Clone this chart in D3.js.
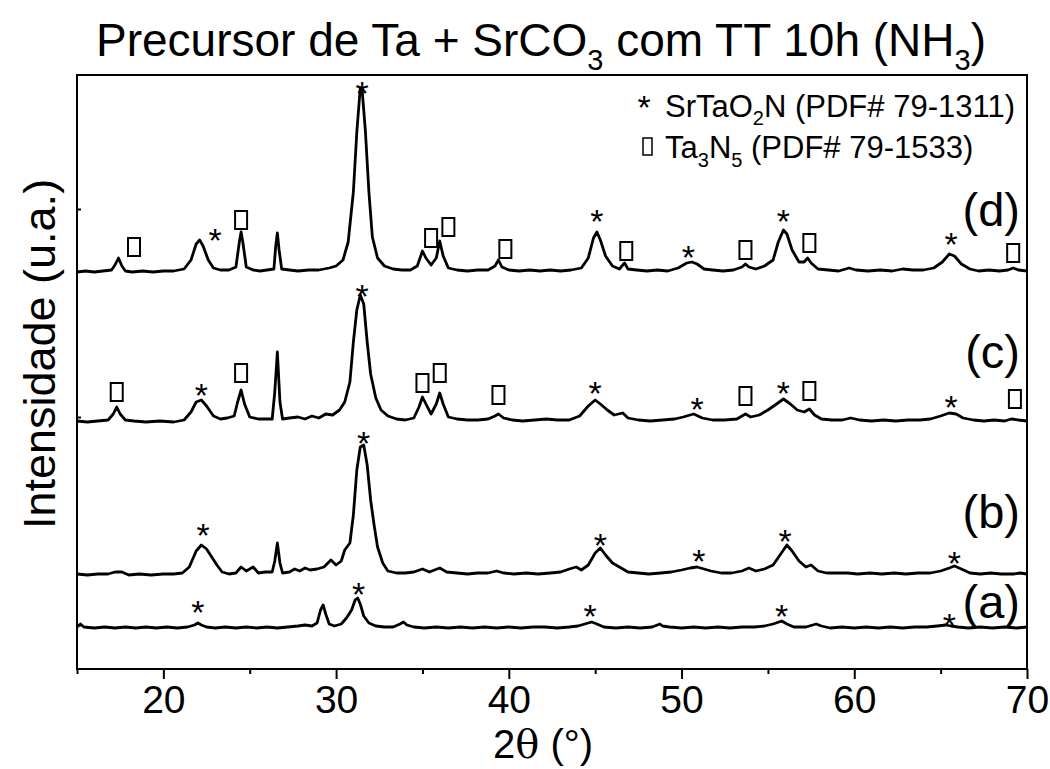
<!DOCTYPE html>
<html>
<head>
  <meta charset='utf-8'>
  <title>XRD Ta + SrCO3</title>
  <script src="https://cdn.jsdelivr.net/npm/d3@7"></script>
  <style>
    html, body { margin: 0; padding: 0; background: #fff; }
    svg text { font-family: Arial, "Liberation Sans", Helvetica, sans-serif; fill: #000; }
  </style>
</head>
<body>
<div id="chart"></div>
<script>
// 2theta / intensity pairs (height above each pattern's baseline)
const patternA = [
  [15.0,1],[15.2,4],[15.4,1],[16.0,0],[16.6,1],[17.2,0],[17.8,1],[18.4,0],[19.0,1],[19.6,0],[20.2,1],[20.8,0],
  [21.4,1],[21.8,3],[22.0,5],[22.2,3],[22.5,1],[23.0,0],[23.6,1],[24.2,0],[24.8,1],[25.4,0],[26.0,1],[26.6,0],
  [27.2,1],[27.8,2],[28.2,3],[28.6,2],[28.9,5],[29.1,18],[29.25,23],[29.4,14],[29.6,4],[29.9,2],[30.3,4],[30.6,10],
  [30.9,18],[31.1,28],[31.25,30],[31.4,24],[31.6,12],[31.9,5],[32.3,2],[32.8,1],[33.3,1],[33.7,4],[33.9,6],[34.1,3],
  [34.5,1],[35.1,0],[35.8,1],[36.5,0],[37.2,1],[37.9,0],[38.6,1],[39.3,0],[40.0,1],[40.7,0],[41.4,1],[42.1,1],
  [42.8,0],[43.5,1],[44.0,2],[44.4,4],[44.8,6],[45.1,4],[45.5,1],[46.2,0],[46.9,1],[47.6,0],[48.3,1],[48.6,3],
  [48.75,4],[48.9,2],[49.3,1],[50.0,0],[50.7,1],[51.4,0],[52.1,1],[52.8,0],[53.5,1],[54.2,1],[54.8,2],[55.3,4],
  [55.8,7],[56.1,4],[56.5,1],[57.2,1],[57.6,3],[57.8,4],[58.1,2],[58.6,0],[59.3,1],[60.0,0],[60.7,1],[61.4,0],
  [62.1,1],[62.8,0],[63.5,1],[64.2,1],[64.8,2],[65.3,3],[65.6,2],[66.0,1],[66.6,0],[67.3,1],[68.0,0],[68.7,1],
  [69.4,0],[70.0,1]
];
const patternB = [
  [15.0,1],[15.6,0],[16.2,1],[16.8,1],[17.2,3],[17.6,3],[18.0,0],[18.6,1],[19.3,0],[20.0,1],[20.6,1],[21.1,2],
  [21.5,8],[21.9,24],[22.2,30],[22.5,26],[22.8,18],[23.1,10],[23.4,3],[23.8,1],[24.2,2],[24.5,8],[24.8,4],[25.2,8],
  [25.5,2],[25.9,3],[26.3,3],[26.45,14],[26.6,32],[26.75,12],[26.9,2],[27.3,3],[27.6,6],[27.9,4],[28.2,7],[28.5,5],
  [28.9,6],[29.3,8],[29.7,15],[30.0,10],[30.3,14],[30.5,25],[30.8,32],[31.0,60],[31.2,105],[31.4,128],[31.6,130],
  [31.8,110],[32.0,75],[32.2,50],[32.4,28],[32.7,12],[33.0,4],[33.5,2],[34.0,2],[34.5,3],[35.0,6],[35.4,3],[36.0,7],
  [36.4,3],[37.0,2],[37.6,1],[38.2,2],[38.8,2],[39.3,4],[39.7,2],[40.3,1],[41.0,2],[41.7,1],[42.4,2],[43.0,3],
  [43.5,6],[43.9,8],[44.2,5],[44.6,10],[45.0,22],[45.3,27],[45.6,20],[46.0,12],[46.5,7],[46.9,3],[47.5,2],[48.1,1],
  [48.8,2],[49.4,3],[50.0,5],[50.5,7],[50.9,8],[51.3,6],[51.7,4],[52.3,2],[52.9,2],[53.5,4],[53.9,7],[54.3,4],
  [54.8,6],[55.3,10],[55.7,20],[56.1,30],[56.4,24],[56.8,14],[57.2,8],[57.5,10],[57.9,4],[58.4,2],[59.0,2],[59.6,2],
  [60.2,1],[60.9,2],[61.6,1],[62.3,2],[63.0,1],[63.7,2],[64.4,2],[65.0,4],[65.5,7],[65.8,9],[66.2,6],[66.7,2],
  [67.3,1],[67.9,2],[68.5,1],[69.2,1],[69.6,2],[70.0,1]
];
const patternC = [
  [15.0,1],[15.6,0],[16.2,1],[16.8,2],[17.1,8],[17.3,15],[17.5,8],[17.8,2],[18.3,1],[19.0,0],[19.8,1],[20.6,0],
  [21.2,2],[21.6,10],[21.9,20],[22.2,22],[22.5,16],[22.9,6],[23.3,3],[23.7,4],[24.1,6],[24.3,20],[24.5,32],[24.7,18],
  [25.0,5],[25.5,3],[26.0,3],[26.3,3],[26.45,30],[26.6,70],[26.75,20],[26.9,3],[27.3,4],[27.8,5],[28.2,3],[28.6,6],
  [29.0,4],[29.4,8],[29.8,7],[30.2,12],[30.5,20],[30.8,40],[31.0,80],[31.2,112],[31.4,127],[31.6,118],[31.8,80],
  [32.0,48],[32.3,24],[32.6,12],[33.0,6],[33.5,3],[34.0,2],[34.5,4],[34.8,15],[35.0,25],[35.2,18],[35.5,8],[35.8,18],
  [36.0,29],[36.2,18],[36.5,5],[37.0,3],[37.6,2],[38.2,2],[38.8,3],[39.2,6],[39.4,8],[39.7,4],[40.2,2],[40.8,1],
  [41.5,2],[42.2,3],[42.8,2],[43.5,2],[44.1,6],[44.6,16],[45.0,22],[45.3,18],[45.7,12],[46.1,7],[46.6,9],[46.9,4],
  [47.5,2],[48.2,1],[48.9,2],[49.6,3],[50.1,5],[50.7,8],[51.2,4],[51.8,2],[52.5,2],[53.2,3],[53.7,8],[54.0,5],
  [54.5,7],[55.0,12],[55.5,18],[55.9,23],[56.3,18],[56.7,12],[57.1,10],[57.4,13],[57.7,7],[58.1,3],[58.7,2],[59.3,2],
  [59.8,4],[60.3,2],[61.0,1],[61.7,2],[62.4,1],[63.1,2],[63.8,2],[64.4,3],[65.0,6],[65.5,9],[65.9,8],[66.3,4],
  [66.9,2],[67.5,1],[68.1,2],[68.7,1],[69.1,3],[69.5,2],[70.0,1]
];
const patternD = [
  [15.0,0],[15.5,1],[16.0,0],[16.5,1],[17.0,2],[17.2,7],[17.4,14],[17.6,6],[17.8,1],[18.2,0],[18.8,1],[19.4,0],
  [20.0,1],[20.6,1],[21.2,3],[21.6,12],[21.9,28],[22.1,32],[22.3,26],[22.6,12],[22.9,4],[23.3,2],[23.8,2],[24.2,5],
  [24.4,30],[24.5,40],[24.6,30],[24.8,5],[25.2,2],[25.6,1],[26.0,2],[26.4,3],[26.5,25],[26.6,39],[26.7,22],[26.85,3],
  [27.3,2],[27.8,1],[28.4,2],[29.0,2],[29.6,4],[30.0,6],[30.4,12],[30.7,30],[31.0,80],[31.2,140],[31.4,184],[31.5,184],
  [31.7,140],[31.9,80],[32.1,35],[32.4,14],[32.8,6],[33.3,3],[33.8,2],[34.3,2],[34.7,6],[35.0,21],[35.2,14],[35.5,7],
  [35.8,14],[36.0,31],[36.2,16],[36.5,4],[37.0,2],[37.6,1],[38.2,2],[38.8,2],[39.2,6],[39.4,12],[39.6,5],[40.0,2],
  [40.6,1],[41.2,2],[41.8,1],[42.4,2],[43.0,1],[43.6,2],[44.2,4],[44.6,14],[44.9,34],[45.1,40],[45.3,32],[45.6,16],
  [46.0,6],[46.4,3],[46.7,9],[46.9,3],[47.4,2],[48.0,1],[48.6,2],[49.2,1],[49.8,4],[50.3,9],[50.6,10],[50.9,8],
  [51.3,3],[51.8,2],[52.4,1],[53.0,2],[53.5,5],[53.7,8],[53.9,5],[54.3,3],[54.8,6],[55.3,12],[55.6,30],[55.9,42],
  [56.1,38],[56.4,22],[56.8,10],[57.1,10],[57.3,14],[57.5,9],[57.9,3],[58.5,2],[59.1,1],[59.7,4],[60.1,2],[60.8,1],
  [61.5,2],[62.2,1],[62.8,3],[63.4,2],[64.0,2],[64.6,4],[65.1,10],[65.5,18],[65.8,16],[66.2,8],[66.7,3],[67.2,1],
  [67.8,2],[68.4,1],[68.9,2],[69.2,4],[69.5,2],[70.0,1]
];

const sampleLabels = ["(a)", "(b)", "(c)", "(d)"];
const offsets = [41, 94, 247, 397];          // vertical stacking of the patterns
const labelLevels = [51, 141, 301, 443];      // baseline of the (a)..(d) labels
const xTicks = [20, 30, 40, 50, 60, 70];
const xMinorTicks = [15, 25, 35, 45, 55, 65];
const yTicks = [44, 252, 460];

// phase markers: [pattern index, 2theta, level above baseline, type]
const markers = [
  [3,18.3,25,"box"],[3,23.0,40,"star"],[3,24.5,52,"box"],[3,31.5,187,"star"],[3,35.5,34,"box"],[3,36.5,45,"box"],
  [3,39.8,23,"box"],[3,45.1,59,"star"],[3,46.8,21,"box"],[3,50.4,23,"star"],[3,53.7,22,"box"],[3,55.9,59,"star"],
  [3,57.4,29,"box"],[3,65.6,36,"star"],[3,69.2,19,"box"],
  [2,17.3,30,"box"],[2,22.2,35,"star"],[2,24.5,49,"box"],[2,31.5,134,"star"],[2,35.0,39,"box"],[2,36.0,49,"box"],
  [2,39.4,27,"box"],[2,45.0,37,"star"],[2,50.9,21,"star"],[2,53.7,26,"box"],[2,55.9,37,"star"],[2,57.4,31,"box"],
  [2,65.6,23,"star"],[2,69.3,23,"box"],
  [1,22.3,48,"star"],[1,31.6,140,"star"],[1,45.3,38,"star"],[1,51.0,22,"star"],[1,56.0,42,"star"],[1,65.8,20,"star"],
  [0,22.0,24,"star"],[0,31.3,42,"star"],[0,44.7,20,"star"],[0,55.8,20,"star"],[0,65.5,11,"star"]
];

const W = 1050, H = 769;
const margin = {top: 75, right: 23, bottom: 100, left: 77};
const width = W - margin.left - margin.right,
      height = H - margin.top - margin.bottom;

const svg = d3.select("#chart").append("svg")
    .attr("width", W)
    .attr("height", H);

const g = svg.append("g")
    .attr("transform", `translate(${margin.left},${margin.top})`);

const x = d3.scaleLinear().domain([15, 70]).range([0, width]);
const y = d3.scaleLinear().domain([0, 594]).range([height, 0]);

// frame
g.append("rect")
    .attr("width", width).attr("height", height)
    .attr("fill", "none").attr("stroke", "#000").attr("stroke-width", 2);

// x axis, major + minor ticks
const xAxis = g.append("g")
    .attr("transform", `translate(0,${height})`)
    .call(d3.axisBottom(x).tickValues(xTicks).tickSize(10).tickPadding(6));
g.append("g")
    .attr("transform", `translate(0,${height})`)
    .call(d3.axisBottom(x).tickValues(xMinorTicks).tickSize(5).tickFormat(""))
    .call(s => s.select(".domain").remove());
xAxis.select(".domain").remove();
g.selectAll(".tick line").attr("stroke", "#000").attr("stroke-width", 2);
xAxis.selectAll("text").attr("font-size", 39).attr("fill", "#000")
    .style("font-family", "Arial, 'Liberation Sans', sans-serif");

// y axis: unlabeled ticks pointing in
const yAxis = g.append("g")
    .call(d3.axisRight(y).tickValues(yTicks).tickSize(4).tickFormat(""));
yAxis.select(".domain").remove();
yAxis.selectAll("line").attr("stroke", "#000").attr("stroke-width", 2);

// patterns
const patterns = [patternA, patternB, patternC, patternD];
const line = d3.line()
    .x(d => x(d[0]))
    .y(d => y(d[1]));

g.selectAll(".pattern")
  .data(patterns)
  .join("path")
    .attr("class", "pattern")
    .attr("fill", "none")
    .attr("stroke", "#000")
    .attr("stroke-width", 2.8)
    .attr("stroke-linejoin", "round")
    .attr("d", (d, i) => line(d.map(p => [p[0], p[1] + offsets[i]])));

// markers
const starSize = 34;
g.selectAll(".star")
  .data(markers.filter(m => m[3] === "star"))
  .join("text")
    .attr("class", "star")
    .attr("x", m => x(m[1]))
    .attr("y", m => y(m[2] + offsets[m[0]]) + starSize * 0.6)
    .attr("text-anchor", "middle")
    .attr("font-size", starSize)
    .text("*");

g.selectAll(".box")
  .data(markers.filter(m => m[3] === "box"))
  .join("rect")
    .attr("class", "box")
    .attr("x", m => x(m[1]) - 6)
    .attr("y", m => y(m[2] + offsets[m[0]]) - 9)
    .attr("width", 12)
    .attr("height", 18)
    .attr("fill", "none")
    .attr("stroke", "#000")
    .attr("stroke-width", 2);

// sample labels
g.selectAll(".sample")
  .data(sampleLabels)
  .join("text")
    .attr("class", "sample")
    .attr("x", width - 7)
    .attr("y", (d, i) => y(labelLevels[i]))
    .attr("text-anchor", "end")
    .attr("font-size", 47)
    .text(d => d);

// legend
const leg = g.append("g").attr("font-size", 31);
leg.append("text").attr("x", 567).attr("y", 44).attr("text-anchor", "middle").attr("font-size", 34).text("*");
const t1 = leg.append("text").attr("x", 588).attr("y", 42);
t1.append("tspan").text("SrTaO");
t1.append("tspan").attr("font-size", 20).attr("dy", 8).text("2");
t1.append("tspan").attr("dy", -8).text("N (PDF# 79-1311)");
leg.append("rect").attr("x", 566).attr("y", 63).attr("width", 9).attr("height", 17)
    .attr("fill", "none").attr("stroke", "#000").attr("stroke-width", 1.5);
const t2 = leg.append("text").attr("x", 588).attr("y", 83);
t2.append("tspan").text("Ta");
t2.append("tspan").attr("font-size", 20).attr("dy", 9).text("3");
t2.append("tspan").attr("dy", -9).text("N");
t2.append("tspan").attr("font-size", 20).attr("dy", 9).text("5");
t2.append("tspan").attr("dy", -9).text(" (PDF# 79-1533)");

// titles
const title = svg.append("text")
    .attr("x", 541).attr("y", 56)
    .attr("text-anchor", "middle")
    .attr("font-size", 46);
title.append("tspan").text("Precursor de Ta + SrCO");
title.append("tspan").attr("font-size", 29).attr("dy", 14).text("3");
title.append("tspan").attr("dy", -14).text(" com TT 10h (NH");
title.append("tspan").attr("font-size", 29).attr("dy", 14).text("3");
title.append("tspan").attr("dy", -14).text(")");

const xt = svg.append("text")
    .attr("x", 543).attr("y", 758)
    .attr("text-anchor", "middle")
    .attr("font-size", 40);
xt.append("tspan").text("2");
xt.append("tspan").style("font-family", "'DejaVu Serif', 'Liberation Serif', serif").text("θ");
xt.append("tspan").text(" (°)");

svg.append("text")
    .attr("transform", "translate(55,354) rotate(-90)")
    .attr("text-anchor", "middle")
    .attr("font-size", 45)
    .text("Intensidade (u.a.)");
</script>
</body>
</html>
